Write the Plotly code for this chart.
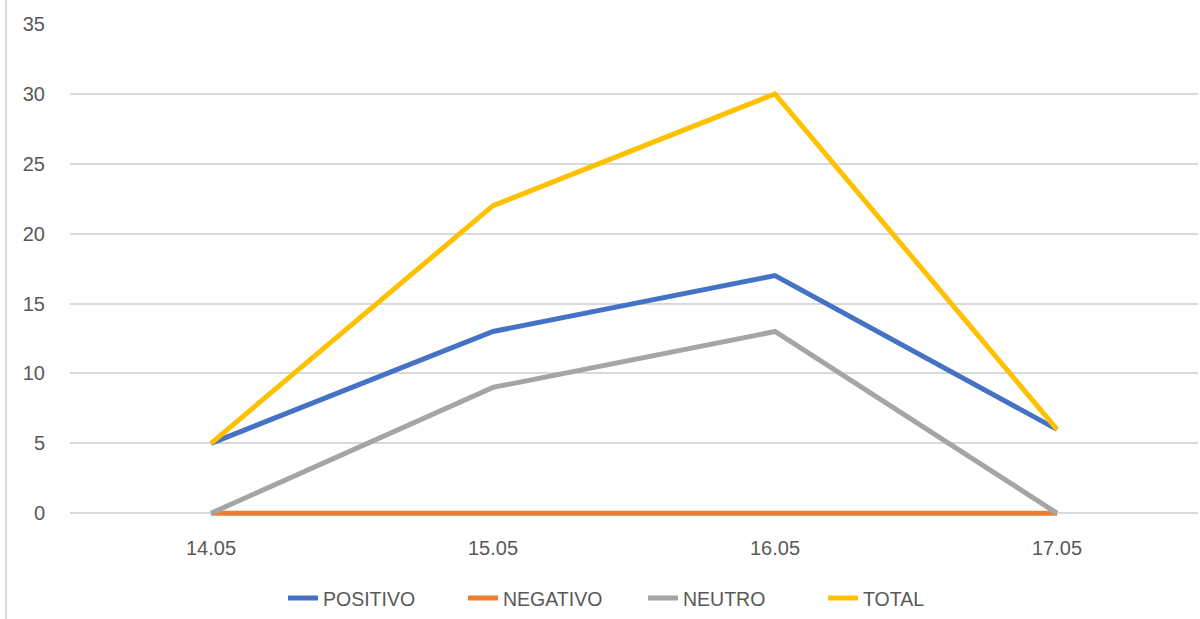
import plotly.graph_objects as go

categories = ["14.05", "15.05", "16.05", "17.05"]
positivo = [5, 13, 17, 6]
negativo = [0, 0, 0, 0]
neutro = [0, 9, 13, 0]
total = [5, 22, 30, 6]

series = [
    ("POSITIVO", positivo, "#4472C4"),
    ("NEGATIVO", negativo, "#ED7D31"),
    ("NEUTRO", neutro, "#A5A5A5"),
    ("TOTAL", total, "#FFC000"),
]

fig = go.Figure()
for name, vals, color in series:
    fig.add_trace(go.Scatter(
        x=categories, y=vals, name=name, mode="lines",
        line=dict(color=color, width=5), cliponaxis=False,
    ))

fig.update_layout(
    width=1200, height=619,
    margin=dict(l=70, r=2, t=24, b=102),
    paper_bgcolor="white", plot_bgcolor="white",
    font=dict(family="Liberation Sans, Arial, sans-serif", size=20, color="#595959"),
    showlegend=True,
    legend=dict(
        orientation="h", x=0.508, xanchor="center", y=-0.165, yanchor="middle",
        font=dict(family="Liberation Sans, Arial, sans-serif", size=19.5, color="#595959"),
        entrywidth=135, entrywidthmode="pixels", tracegroupgap=0,
    ),
    xaxis=dict(
        type="category", range=[-0.5, 3.5], showgrid=False,
        showline=False, ticks="", ticklabelstandoff=18, zeroline=False,
        tickfont=dict(size=20),
    ),
    yaxis=dict(
        range=[-0.2, 35], tickvals=[0, 5, 10, 15, 20, 25, 30, 35],
        showgrid=True, gridcolor="#D9D9D9", gridwidth=1.5,
        zeroline=False, showline=False, ticks="", ticklabelstandoff=24,
        tickfont=dict(size=20),
    ),
    shapes=[dict(
        type="line", xref="paper", yref="paper",
        x0=(6 - 70) / 1128, x1=(6 - 70) / 1128, y0=-0.5, y1=1.1,
        line=dict(color="#D9D9D9", width=2),
    )],
)

fig.write_html(
    "out.html",
    config={"displayModeBar": False},
    post_script="document.body.style.margin='0';document.body.style.padding='0';",
)
